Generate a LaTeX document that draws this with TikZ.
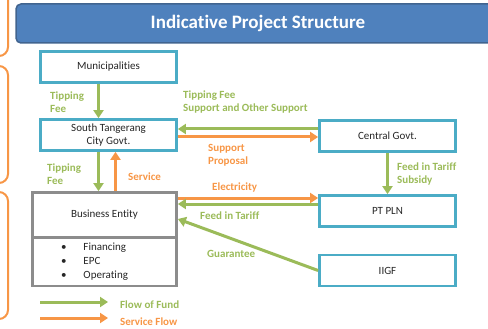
\documentclass[tikz,border=0pt]{standalone}
\usepackage{fontspec}
\setmainfont{Carlito}[Ligatures=NoCommon]
\usetikzlibrary{arrows.meta}
\definecolor{boxcyan}{HTML}{4BACC6}
\definecolor{fundgreen}{HTML}{9BBB59}
\definecolor{serviceorange}{HTML}{F79646}
\definecolor{titleblue}{HTML}{4F81BD}
\definecolor{titleedge}{HTML}{41648F}
\definecolor{entitygray}{HTML}{8C8C8C}

\begin{document}
\begin{tikzpicture}[
    x=1pt, y=-1pt,
    every node/.style={font=\fontsize{11}{13}\selectfont, text=black!85},
    partybox/.style={draw=boxcyan, line width=2.8pt, fill=white, minimum width=136pt, minimum height=31pt, inner sep=1pt, align=center},
    entitybox/.style={draw=entitygray, line width=2.8pt, fill=white, minimum width=144pt, inner sep=1pt, align=center},
    banner/.style={draw=titleedge, line width=1.5pt, fill=titleblue, rounded corners=5pt, minimum width=484pt, minimum height=39pt, text=white, font=\fontsize{19}{22}\selectfont\bfseries},
    fundarrow/.style={-{Triangle[length=8pt,width=10pt]}, draw=fundgreen, line width=3pt},
    servicearrow/.style={-{Triangle[length=8pt,width=10pt]}, draw=serviceorange, line width=3pt},
    fundlabel/.style={text=fundgreen, font=\fontsize{11}{13}\selectfont\bfseries, align=left, inner sep=0pt, anchor=west},
    servicelabel/.style={text=serviceorange, font=\fontsize{11}{13}\selectfont\bfseries, align=left, inner sep=0pt, anchor=west},
    bracket/.style={draw=serviceorange, line width=2pt, rounded corners=9pt},
]
\useasboundingbox (0,0) rectangle (488,329);
\clip (0,0) rectangle (488,329);

% Side brackets and title banner
\draw[bracket] (-30,-20) rectangle (8,56);
\draw[bracket] (-30,66) rectangle (8,183);
\draw[bracket] (-30,192) rectangle (8,319);
\node[banner] (title) at (258,23.5) {Indicative Project Structure};

% Parties
\node[partybox] (muni) at (108.5,67) {Municipalities};
\node[partybox] (st) at (108.5,135) {South Tangerang\\City Govt.};
\node[partybox] (cg) at (387.5,136) {Central Govt.};
\node[partybox] (pln) at (387.5,211) {PT PLN};
\node[partybox] (iigf) at (387.5,270.5) {IIGF};

% Business entity (two parts)
\node[entitybox, minimum height=45pt] (be) at (104.5,215) {Business Entity};
\node[entitybox, minimum height=48pt, text width=87pt, align=left] (betasks) at (104.5,262) {\fontsize{11}{14}\selectfont\noindent
  \begin{tabular}{@{}c@{\hspace{17pt}}l@{}}
  \textbullet & Financing\\
  \textbullet & EPC\\
  \textbullet & Operating
  \end{tabular}};

% Flows between parties
\draw[fundarrow] ([xshift=-10pt]muni.south) -- ([xshift=-10pt]st.north);
\draw[fundarrow] ([xshift=-10pt]st.south) -- ([xshift=-10pt]st.south |- be.north);
\draw[servicearrow] ([xshift=7pt]st.south |- be.north) -- ([xshift=7pt]st.south);
\draw[fundarrow] ([yshift=7pt]cg.west) -- ([yshift=7pt]cg.west -| st.east);
\draw[servicearrow] ([yshift=-1pt]cg.west -| st.east) -- ([yshift=-1pt]cg.west);
\draw[fundarrow] (cg.south) -- (pln.north);
\draw[servicearrow] ([yshift=13pt]pln.west -| be.east) -- ([yshift=13pt]pln.west);
\draw[fundarrow] ([yshift=7pt]pln.west) -- ([yshift=7pt]pln.west -| be.east);
\draw[fundarrow] (iigf.west) -- ([yshift=-4pt]be.east);

% Flow labels
\node[fundlabel] (tipfeetop) at (50,102.5) {Tipping\\Fee};
\node[fundlabel] (supportlbl) at (183,102.5) {Tipping Fee\\Support and Other Support};
\node[servicelabel] (proposallbl) at (208,155.5) {Support\\Proposal};
\node[fundlabel] (subsidylbl) at (397,174) {Feed in Tariff\\Subsidy};
\node[servicelabel] (electricitylbl) at (212,188) {Electricity};
\node[fundlabel] (fitlbl) at (200,216) {Feed in Tariff};
\node[fundlabel] (tipfeebottom) at (47,174.5) {Tipping\\Fee};
\node[servicelabel] (servicelbl) at (128,177) {Service};
\node[fundlabel] (guaranteelbl) at (207,254) {Guarantee};

% Legend
\coordinate (fundstart) at (40,302);
\coordinate (fundend) at (108,302);
\coordinate (servicestart) at (40,318);
\coordinate (serviceend) at (108,318);
\draw[fundarrow] (fundstart) -- (fundend);
\draw[servicearrow] (servicestart) -- (serviceend);
\node[fundlabel] (fundkey) at (120,305) {Flow of Fund};
\node[servicelabel] (servicekey) at (120,322) {Service Flow};
\end{tikzpicture}
\end{document}
